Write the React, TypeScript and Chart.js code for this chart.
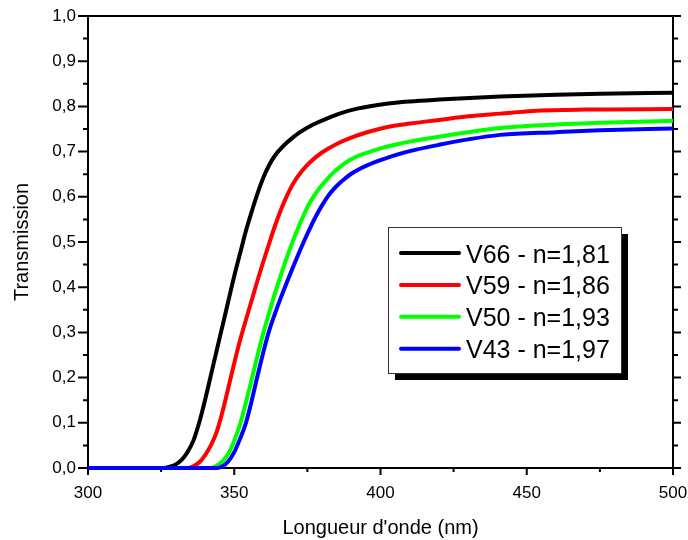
import React, { useEffect, useRef } from 'react';
import { Chart, registerables } from 'chart.js';

Chart.register(...registerables);

// ---- Data ----
const seriesLabels = ['V66 - n=1,81', 'V59 - n=1,86', 'V50 - n=1,93', 'V43 - n=1,97'];
const seriesColors = ['#000000', '#ff0000', '#00ff00', '#0000ff'];

const wlV66 = [300, 326, 328, 330, 332, 334, 336, 338, 340, 342, 344, 346, 348, 350, 352, 354, 356, 358, 360, 362, 364, 366, 368, 370, 372, 377, 382, 386, 392, 402, 410, 420, 441, 460, 475, 500];
const trV66 = [0, 0, 0.003, 0.008, 0.018, 0.035, 0.06, 0.1, 0.15, 0.205, 0.26, 0.315, 0.37, 0.425, 0.475, 0.525, 0.568, 0.608, 0.643, 0.671, 0.692, 0.707, 0.72, 0.731, 0.741, 0.76, 0.774, 0.784, 0.795, 0.806, 0.811, 0.815, 0.822, 0.826, 0.828, 0.83];

const wlV59 = [300, 334, 336, 338, 340, 342, 344, 346, 348, 350, 352, 354, 356, 358, 360, 362, 364, 366, 368, 370, 373, 376, 380, 385, 390, 396, 402, 410, 420, 430, 441, 452, 470, 500];
const trV59 = [0, 0, 0.004, 0.012, 0.028, 0.05, 0.08, 0.125, 0.178, 0.232, 0.283, 0.328, 0.372, 0.416, 0.458, 0.498, 0.537, 0.572, 0.602, 0.628, 0.656, 0.677, 0.698, 0.717, 0.731, 0.744, 0.754, 0.762, 0.77, 0.778, 0.784, 0.79, 0.793, 0.794];

const wlV50 = [300, 342, 344, 346, 348, 350, 352, 354, 356, 358, 360, 362, 364, 366, 368, 370, 372, 374, 376, 378, 380, 382, 384, 386, 388, 390, 393, 396, 400, 405, 410, 420, 430, 441, 460, 475, 500];
const trV50 = [0, 0, 0.005, 0.015, 0.032, 0.06, 0.097, 0.145, 0.197, 0.25, 0.3, 0.345, 0.388, 0.428, 0.466, 0.501, 0.533, 0.563, 0.589, 0.609, 0.626, 0.641, 0.654, 0.665, 0.675, 0.683, 0.692, 0.699, 0.707, 0.715, 0.722, 0.733, 0.743, 0.752, 0.76, 0.764, 0.768];

const wlV43 = [300, 344, 346, 348, 350, 352, 354, 356, 358, 360, 362, 364, 366, 368, 370, 372, 374, 376, 378, 380, 382, 384, 386, 388, 390, 393, 396, 400, 404, 410, 420, 430, 441, 460, 475, 500];
const trV43 = [0, 0, 0.004, 0.015, 0.035, 0.065, 0.1, 0.15, 0.205, 0.258, 0.305, 0.343, 0.378, 0.411, 0.443, 0.474, 0.504, 0.532, 0.558, 0.581, 0.601, 0.617, 0.63, 0.641, 0.651, 0.662, 0.671, 0.681, 0.69, 0.701, 0.715, 0.727, 0.737, 0.743, 0.747, 0.751];

const wavelengths = [wlV66, wlV59, wlV50, wlV43];
const transmissions = [trV66, trV59, trV50, trV43];

const xMin = 300;
const xMax = 500;
const xMajorTicks = [300, 350, 400, 450, 500];
const xMinorTicks = [325, 375, 425, 475];
const yMin = 0;
const yMax = 1;
const yMajorTicks = [0, 0.1, 0.2, 0.3, 0.4, 0.5, 0.6, 0.7, 0.8, 0.9, 1.0];
const yMinorTicks = [0.05, 0.15, 0.25, 0.35, 0.45, 0.55, 0.65, 0.75, 0.85, 0.95];
const xTitle = "Longueur d'onde (nm)";
const yTitle = 'Transmission';

const FONT = '"Liberation Sans", Arial, Helvetica, sans-serif';

const decorPlugin = {
  id: 'decor',
  beforeDatasetsDraw(chart: any) {
    const { ctx, chartArea } = chart;
    const { left, right, top, bottom } = chartArea;
    const xs = chart.scales.x;
    const ys = chart.scales.y;
    ctx.save();
    ctx.strokeStyle = '#000';
    ctx.lineWidth = 2;
    ctx.strokeRect(left, top, right - left, bottom - top);
    ctx.beginPath();
    yMajorTicks.forEach((v) => {
      const p = ys.getPixelForValue(v);
      ctx.moveTo(left - 10, p); ctx.lineTo(left, p);
      ctx.moveTo(right, p); ctx.lineTo(right + 8, p);
    });
    yMinorTicks.forEach((v) => {
      const p = ys.getPixelForValue(v);
      ctx.moveTo(left - 5, p); ctx.lineTo(left, p);
      ctx.moveTo(right, p); ctx.lineTo(right + 5, p);
    });
    xMajorTicks.forEach((v) => {
      const p = xs.getPixelForValue(v);
      ctx.moveTo(p, bottom); ctx.lineTo(p, bottom + 7);
    });
    xMinorTicks.forEach((v) => {
      const p = xs.getPixelForValue(v);
      ctx.moveTo(p, bottom); ctx.lineTo(p, bottom + 4);
    });
    ctx.stroke();

    ctx.fillStyle = '#000';
    ctx.font = `20px ${FONT}`;
    ctx.textAlign = 'center';
    ctx.textBaseline = 'alphabetic';
    ctx.fillText(xTitle, (left + right) / 2, 534);
    ctx.save();
    ctx.translate(28, (top + bottom) / 2);
    ctx.rotate(-Math.PI / 2);
    ctx.fillText(yTitle, 0, 0);
    ctx.restore();
    ctx.restore();
  },
  afterDraw(chart: any) {
    const { ctx } = chart;
    const bx = 388, by = 227, bw = 233, bh = 146;
    ctx.save();
    ctx.fillStyle = '#000';
    ctx.fillRect(bx + 7, by + 7, bw, bh);
    ctx.fillStyle = '#fff';
    ctx.fillRect(bx, by, bw, bh);
    ctx.strokeStyle = '#333';
    ctx.lineWidth = 1;
    ctx.strokeRect(bx + 0.5, by + 0.5, bw, bh);
    ctx.font = `25px ${FONT}`;
    ctx.textAlign = 'left';
    ctx.textBaseline = 'alphabetic';
    chart.data.datasets.forEach((ds: any, i: number) => {
      const yy = 253 + i * 31.9;
      ctx.strokeStyle = ds.borderColor;
      ctx.lineWidth = 4;
      ctx.lineCap = 'round';
      ctx.beginPath();
      ctx.moveTo(401, yy);
      ctx.lineTo(459, yy);
      ctx.stroke();
      ctx.fillStyle = '#000';
      ctx.fillText(ds.label, 466, yy + 9.5);
    });
    ctx.restore();
  },
};

export default function App() {
  const ref = useRef<HTMLCanvasElement | null>(null);
  useEffect(() => {
    if (!ref.current) return;
    const datasets = seriesLabels.map((label, i) => ({
      label,
      data: wavelengths[i].map((w, j) => ({ x: w, y: transmissions[i][j] })),
      borderColor: seriesColors[i],
      backgroundColor: seriesColors[i],
      borderWidth: 4,
      pointRadius: 0,
      cubicInterpolationMode: 'monotone' as const,
      fill: false,
      clip: 6,
      order: seriesLabels.length - 1 - i,
    }));
    const chart = new Chart(ref.current, {
      type: 'line',
      data: { datasets },
      options: {
        animation: false,
        responsive: false,
        devicePixelRatio: 1,
        layout: { padding: { top: 16, right: 15, left: 0, bottom: 0 } },
        plugins: { legend: { display: false }, tooltip: { enabled: false } },
        scales: {
          x: {
            type: 'linear',
            min: xMin,
            max: xMax,
            grid: { display: false, drawTicks: false },
            border: { display: false },
            ticks: {
              stepSize: 50,
              padding: 15,
              color: '#000',
              font: { family: FONT, size: 17 },
              maxRotation: 0,
              callback: (v: any) => String(v),
            },
            afterFit: (s: any) => {
              s.height = 72;
              s.paddingLeft = 0;
              s.paddingRight = 0;
            },
          },
          y: {
            type: 'linear',
            min: yMin,
            max: yMax,
            grid: { display: false, drawTicks: false },
            border: { display: false },
            ticks: {
              stepSize: 0.1,
              padding: 12,
              color: '#000',
              font: { family: FONT, size: 17 },
              callback: (v: any) => Number(v).toFixed(1).replace('.', ','),
            },
            afterFit: (s: any) => {
              s.width = 88;
              s.paddingTop = 0;
              s.paddingBottom = 0;
            },
          },
        },
      },
      plugins: [decorPlugin],
    });
    return () => chart.destroy();
  }, []);
  return (
    <div style={{ position: 'fixed', left: 0, top: 0, width: 688, height: 540, background: '#fff' }}>
      <canvas ref={ref} width={688} height={540} style={{ display: 'block' }} />
    </div>
  );
}
